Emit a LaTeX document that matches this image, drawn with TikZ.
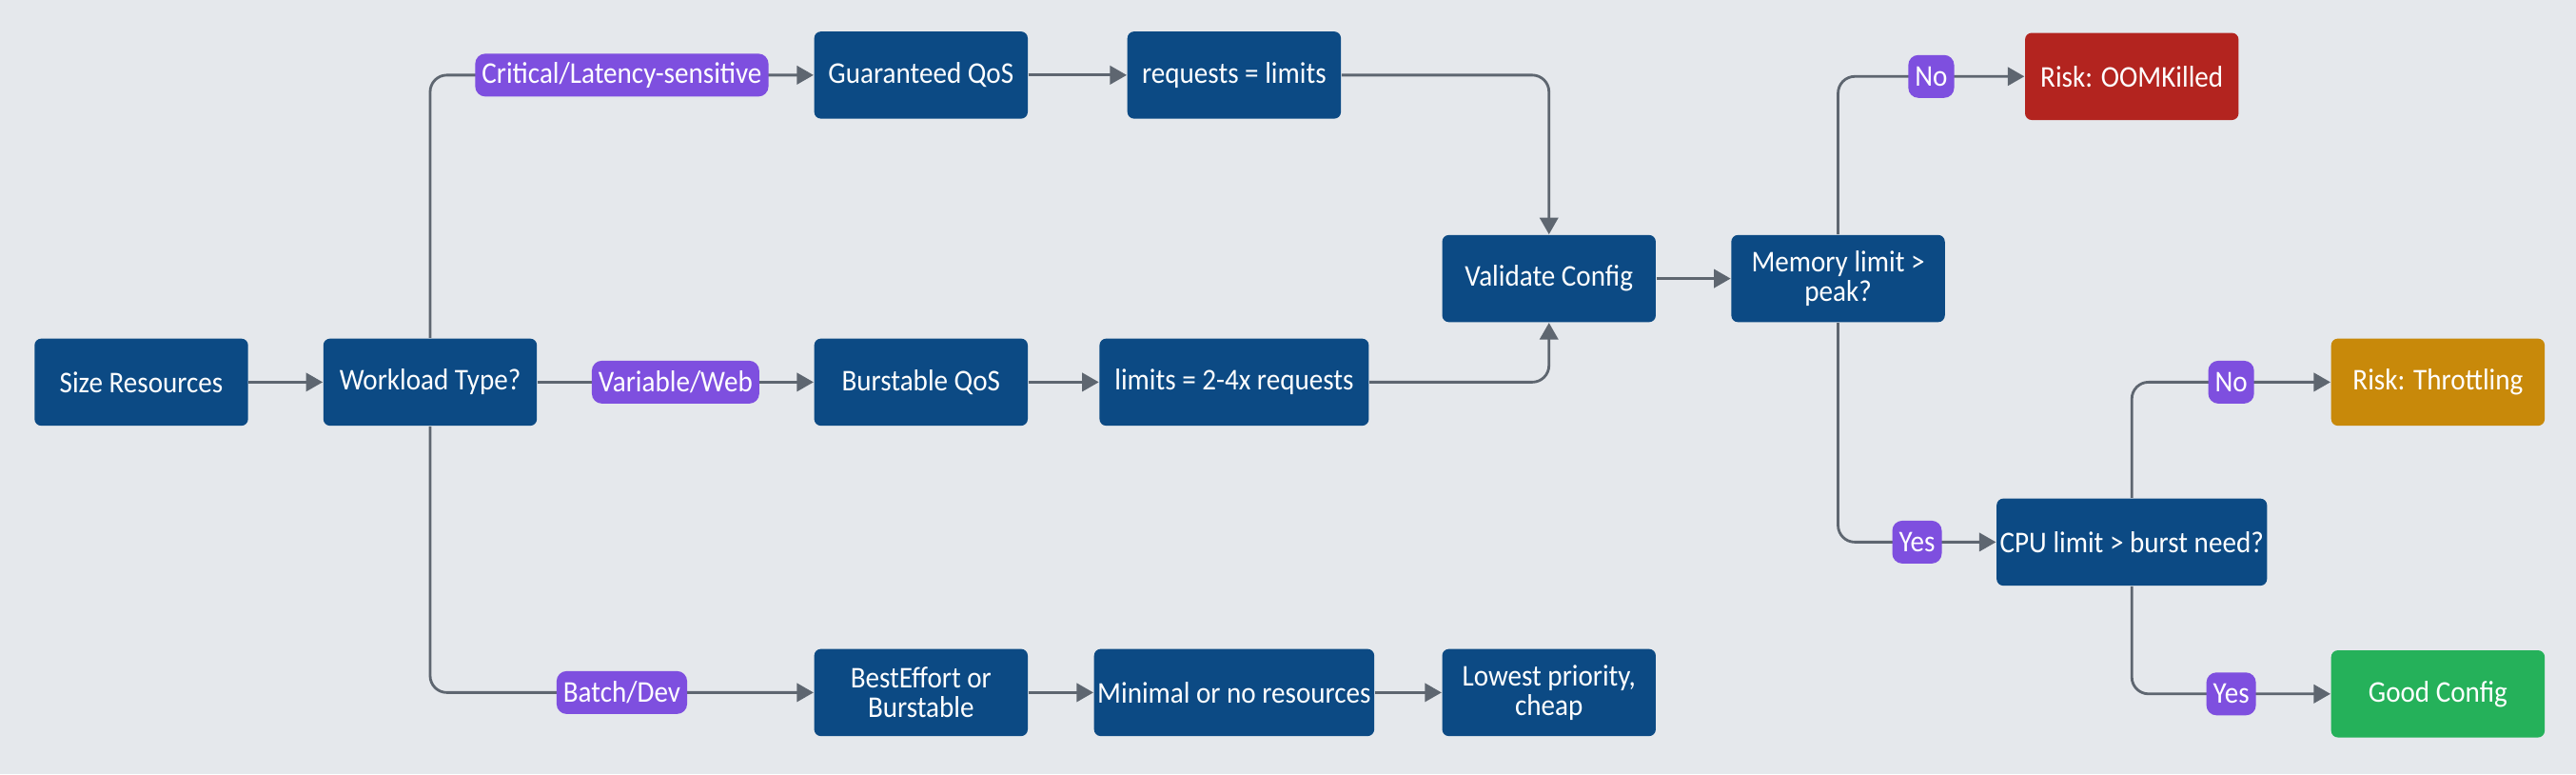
\documentclass[tikz,border=0pt]{standalone}
\usepackage{fontspec}
\setmainfont{Carlito}[FakeStretch=0.92]
\usepackage{tikz}
\usetikzlibrary{arrows.meta,positioning}

\definecolor{bgcol}{HTML}{E5E8EC}
\definecolor{boxblue}{HTML}{0C4A84}
\definecolor{tagpurple}{HTML}{7E4FDF}
\definecolor{riskred}{HTML}{B3241F}
\definecolor{riskorange}{HTML}{C8890A}
\definecolor{goodgreen}{HTML}{25B15A}
\definecolor{linegray}{HTML}{5E6670}

\begin{document}
\begin{tikzpicture}[
  box/.style={fill=boxblue, rounded corners=2pt, minimum height=0.915cm, minimum width=2.244cm, align=center, text=white, inner sep=1pt, font=\fontsize{9}{8.8}\selectfont},
  wbox/.style={box, minimum width=2.83cm},
  tag/.style={fill=tagpurple, rounded corners=3pt, text=white, minimum height=0.45cm, inner xsep=2pt, inner ysep=1pt, font=\fontsize{9}{9}\selectfont},
  arr/.style={-{Triangle[length=5pt,width=5.5pt]}, draw=linegray, line width=0.8pt, rounded corners=5pt}
]
  % canvas
  \fill[bgcol] (0,0) rectangle (27.07,-8.131);

  % start and decision
  \node[box] (size) at (1.485,-4.014) {Size Resources};
  \node[box, right=0.777cm of size] (work) {Workload Type?};

  % middle row: burstable
  \node[box, right=2.9cm of work] (burst) {Burstable QoS};
  \node[wbox, right=0.74cm of burst] (lim) {limits = 2-4x requests};

  % top row: guaranteed
  \node[box, above=2.296cm of burst] (guar) {Guaranteed QoS};
  \node[box, above=2.296cm of lim] (req) {requests = limits};

  % bottom row: best effort
  \node[box, below=2.331cm of burst] (best) {BestEffort or\\Burstable};
  \node[wbox, below=2.331cm of lim] (mini) {Minimal or no resources};
  \node[box, right=0.7cm of mini] (low) {Lowest priority,\\cheap};

  \draw[arr] (size) -- (work);
  \draw[arr] (work.north) |- node[tag, pos=0.75] {Critical/Latency-sensitive} (guar.west);
  \draw[arr] (work) -- node[tag] {Variable/Web} (burst);
  \draw[arr] (work.south) |- node[tag, pos=0.75] {Batch/Dev} (best.west);

  \draw[arr] (guar) -- (req);
  \draw[arr] (burst) -- (lim);
  \draw[arr] (best) -- (mini);
  \draw[arr] (mini) -- (low);

  % validation
  \node[box, above=3.419cm of low] (valid) {Validate Config};
  \node[box, right=0.78cm of valid] (mem) {Memory limit >\\peak?};
  \draw[arr] (req.east) -| (valid.north);
  \draw[arr] (lim.east) -| (valid.south);
  \draw[arr] (valid) -- (mem);

  % checks and outcomes
  \node[box, minimum width=2.78cm, below right=1.839cm and 0.53cm of mem] (cpu) {CPU limit > burst need?};
  \node[box, fill=riskred, above=3.962cm of cpu] (oom) {Risk: OOMKilled};
  \node[box, fill=riskorange, above right=0.751cm and 0.66cm of cpu] (thr) {Risk: Throttling};
  \node[box, fill=goodgreen, below right=0.665cm and 0.66cm of cpu] (good) {Good Config};

  \draw[arr] (mem.north) |- node[tag, pos=0.75] {No} (oom.west);
  \draw[arr] (mem.south) |- node[tag, pos=0.75] {Yes} (cpu.west);
  \draw[arr] (cpu.north) |- node[tag, pos=0.75] {No} (thr.west);
  \draw[arr] (cpu.south) |- node[tag, pos=0.75] {Yes} (good.west);

\end{tikzpicture}
\end{document}
